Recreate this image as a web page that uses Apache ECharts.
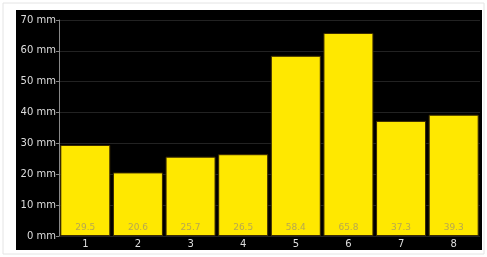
<!DOCTYPE html>
<html>
<head>
<meta charset="utf-8">
<script src="https://cdn.jsdelivr.net/npm/echarts@6/dist/echarts.min.js"></script>
<style>
  html, body { margin: 0; padding: 0; background: #fff; }
  #chart { width: 487px; height: 257px; }
</style>
</head>
<body>
<div id="chart"></div>
<script>
// data
const categories = ['1', '2', '3', '4', '5', '6', '7', '8'];
const rainfall = [29.5, 20.6, 25.7, 26.5, 58.4, 65.8, 37.3, 39.3];

let myChart = echarts.init(document.getElementById('chart'));

let option = {
  animation: false,
  backgroundColor: '#fff',
  graphic: [
    {
      type: 'rect',
      z: -10,
      shape: { x: 3, y: 3, width: 481, height: 251 },
      style: { fill: '#fff', stroke: '#e4e4e4', lineWidth: 1 }
    },
    {
      type: 'rect',
      z: -9,
      shape: { x: 16, y: 10, width: 466, height: 240 },
      style: { fill: '#000' }
    }
  ],
  grid: {
    left: 59,
    right: 7,
    top: 20,
    bottom: 21
  },
  xAxis: {
    type: 'category',
    data: categories,
    axisLine: { show: false },
    axisTick: { show: false },
    axisLabel: { color: '#ddd', fontSize: 10, margin: 3, fontFamily: 'DejaVu Sans' }
  },
  yAxis: {
    type: 'value',
    min: 0,
    max: 70,
    interval: 10,
    axisLine: { show: true, lineStyle: { color: '#888' } },
    axisTick: { show: true, length: 3, lineStyle: { color: '#888' } },
    axisLabel: {
      color: '#ddd',
      fontSize: 10,
      margin: 3,
      fontFamily: 'DejaVu Sans',
      formatter: '{value} mm'
    },
    splitLine: { lineStyle: { color: '#222' } }
  },
  series: [
    {
      type: 'bar',
      data: rainfall,
      barCategoryGap: '5%',
      itemStyle: { color: '#ffe800', borderColor: '#3a2a00', borderWidth: 1 },
      label: {
        show: true,
        position: 'insideBottom',
        distance: 4,
        color: '#b8a850',
        fontSize: 9,
        fontFamily: 'DejaVu Sans',
        formatter: function (p) { return p.value.toFixed(1); }
      }
    }
  ]
};

myChart.setOption(option);
</script>
</body>
</html>
